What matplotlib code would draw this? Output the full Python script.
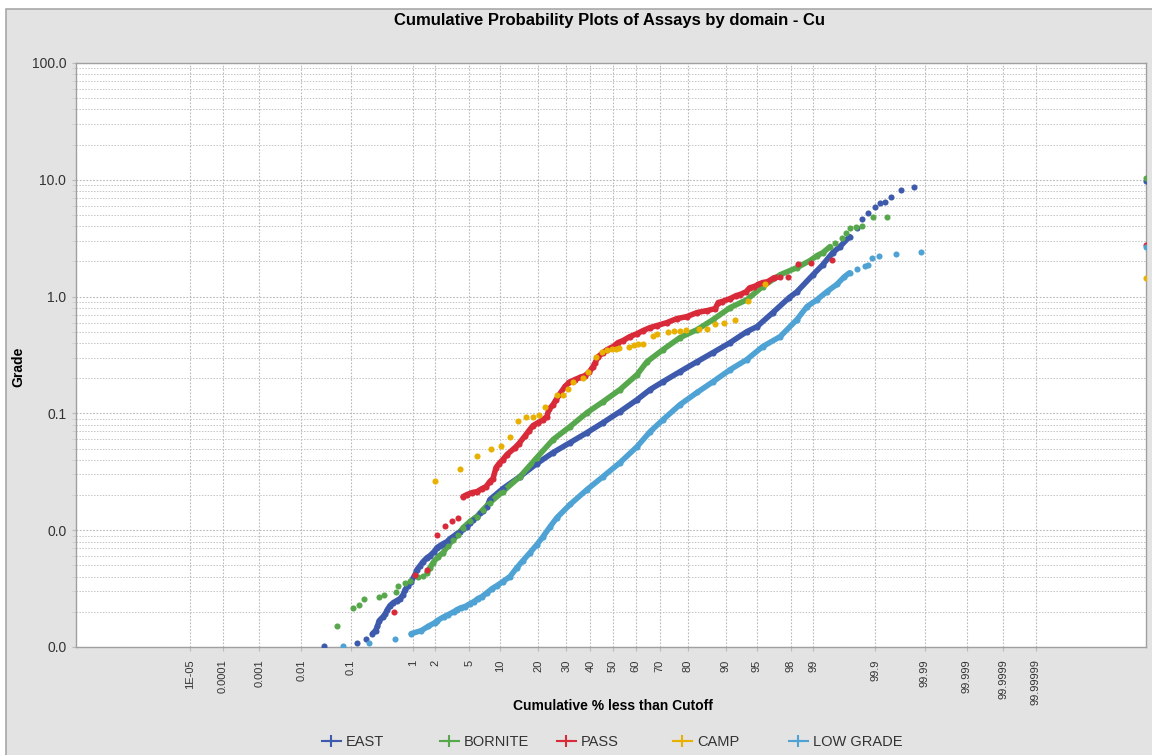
import numpy as np
import matplotlib
matplotlib.use('Agg')
import matplotlib.pyplot as plt
from matplotlib.lines import Line2D
from matplotlib.patches import Rectangle
from matplotlib.ticker import FuncFormatter, LogLocator, NullFormatter, NullLocator
from statistics import NormalDist

plt.rcParams['font.family'] = ['Liberation Sans', 'DejaVu Sans']

# cumulative % less than cutoff / grade (Cu %) for each domain
east_pct = [0.031, 0.13, 0.19, 0.24, 0.27, 0.29, 0.31, 0.36, 0.39, 0.42, 0.46, 0.52, 0.59,
            0.66, 0.73, 0.78, 0.86, 0.95, 1.08, 1.15, 1.27, 1.39, 1.57, 1.72, 1.94, 2.11,
            2.3, 2.51, 2.79, 3.03, 3.29, 3.65, 3.95, 4.26, 4.71, 5.07, 5.45, 5.99, 6.4,
            6.87, 7.52, 8.0, 10.5, 14.6, 19.5, 25.0, 31.5, 38.6, 45.6, 53.1, 60.6, 66.1,
            71.3, 77.5, 82.9, 87.2, 90.9, 93.7, 95.05, 96.7, 97.9, 98.33, 98.99, 99.27,
            99.48, 99.60, 99.72, 99.79, 99.83, 99.864, 99.90, 99.918, 99.934, 99.949,
            99.968, 99.983, 100.0]
east_grade = [0.00101, 0.00109, 0.00118, 0.0013, 0.00138, 0.0015, 0.00168, 0.00182, 0.00193,
              0.00209, 0.00226, 0.0024, 0.0025, 0.0026, 0.00281, 0.0031, 0.00336, 0.00363,
              0.00417, 0.0046, 0.00498, 0.00538, 0.00582, 0.00606, 0.00656, 0.0071, 0.00738,
              0.00767, 0.00798, 0.00847, 0.00881, 0.00935, 0.00973, 0.0103, 0.0107, 0.0116,
              0.0123, 0.0131, 0.0139, 0.0147, 0.0159, 0.0183, 0.0227, 0.0288, 0.0372, 0.0462,
              0.0562, 0.0685, 0.0834, 0.1036, 0.131, 0.16, 0.187, 0.228, 0.277, 0.332, 0.404,
              0.501, 0.553, 0.73, 0.98, 1.10, 1.54, 1.88, 2.38, 2.68, 3.26, 3.9, 4.65, 5.24,
              5.9, 6.38, 6.5, 7.18, 8.24, 8.74, 9.7]

bornite_pct = [0.056, 0.11, 0.14, 0.17, 0.31, 0.37, 0.57, 0.61, 0.78, 0.92, 1.19, 1.39, 1.57,
               1.72, 1.88, 2.17, 2.51, 2.87, 3.29, 3.75, 4.26, 5.07, 5.99, 6.87, 8.0, 10.5,
               14.6, 19.5, 25.0, 31.5, 38.6, 45.6, 53.1, 60.6, 64.8, 71.3, 77.5, 82.9, 87.2,
               90.9, 93.7, 95.7, 97.3, 98.33, 98.88, 99.11, 99.27, 99.43, 99.52, 99.63, 99.68,
               99.72, 99.78, 99.83, 99.89, 99.94, 100.0]
bornite_grade = [0.0015, 0.00217, 0.00231, 0.0026, 0.0027, 0.00281, 0.00298, 0.00336, 0.00356,
                 0.0037, 0.00401, 0.00408, 0.00434, 0.00479, 0.00528, 0.00594, 0.00643, 0.00738,
                 0.0083, 0.00917, 0.0105, 0.0119, 0.0131, 0.015, 0.0172, 0.0214, 0.0288, 0.0419,
                 0.0597, 0.0771, 0.1016, 0.126, 0.16, 0.215, 0.277, 0.352, 0.446, 0.521, 0.636,
                 0.805, 0.94, 1.22, 1.54, 1.77, 2.03, 2.24, 2.38, 2.68, 2.9, 3.2, 3.53, 3.9, 3.97,
                 4.05, 4.84, 4.84, 10.4]

pass_pct = [0.53, 1.08, 1.57, 2.11, 2.65, 3.2, 3.75, 4.26, 4.71, 5.32, 5.99, 6.72, 7.35, 8.0,
            8.57, 9.13, 9.72, 10.5, 11.4, 13.3, 14.3, 16.0, 17.1, 18.3, 19.9, 21.5, 22.8, 23.5,
            25.0, 26.1, 27.6, 29.5, 31.1, 33.5, 35.6, 37.7, 39.4, 41.2, 42.1, 43.4, 45.6, 47.4,
            50.0, 52.2, 54.4, 57.5, 60.6, 63.2, 66.1, 68.9, 72.8, 76.4, 79.8, 82.9, 85.7, 87.7,
            88.4, 89.2, 90.9, 92.0, 92.6, 93.6, 94.1, 94.7, 95.2, 95.7, 96.2, 96.8, 97.3, 97.8,
            98.4, 98.92, 99.47, 100.0]
pass_grade = [0.00201, 0.00417, 0.0046, 0.00917, 0.0109, 0.0121, 0.0126, 0.0194, 0.0202, 0.021,
              0.0214, 0.0227, 0.0236, 0.0261, 0.0277, 0.0344, 0.0372, 0.0402, 0.0444, 0.0509,
              0.0551, 0.0645, 0.0713, 0.0787, 0.0834, 0.0885, 0.0939, 0.108, 0.119, 0.131, 0.148,
              0.17, 0.184, 0.195, 0.203, 0.211, 0.224, 0.252, 0.272, 0.306, 0.332, 0.352, 0.373,
              0.404, 0.42, 0.455, 0.482, 0.512, 0.543, 0.565, 0.599, 0.648, 0.674, 0.73, 0.759,
              0.789, 0.889, 0.906, 0.962, 1.02, 1.04, 1.10, 1.19, 1.22, 1.27, 1.32, 1.34, 1.45,
              1.48, 1.48, 1.92, 1.95, 2.07, 2.78]

camp_pct = [1.99, 3.95, 5.99, 8.2, 10.1, 12.1, 14.1, 16.3, 18.3, 20.2, 22.2, 26.4, 28.7, 30.7,
            32.7, 36.9, 39.0, 42.5, 45.1, 47.4, 49.6, 51.3, 52.7, 57.1, 59.2, 61.0, 63.2, 67.3,
            68.9, 73.2, 75.4, 77.5, 79.5, 83.5, 85.7, 87.7, 89.7, 91.8, 93.9, 96.0, 100.0]
camp_grade = [0.0266, 0.0337, 0.0435, 0.05, 0.053, 0.0633, 0.0867, 0.0939, 0.094, 0.0977, 0.114,
              0.145, 0.145, 0.163, 0.184, 0.199, 0.224, 0.306, 0.338, 0.352, 0.359, 0.359, 0.366,
              0.373, 0.388, 0.396, 0.396, 0.464, 0.482, 0.501, 0.512, 0.512, 0.522, 0.532, 0.532,
              0.587, 0.599, 0.636, 0.924, 1.29, 1.45]

low_pct = [0.072, 0.21, 0.55, 0.95, 1.31, 1.62, 1.99, 2.11, 2.58, 2.87, 3.38, 3.65, 4.05, 4.48,
           5.07, 5.58, 6.12, 6.72, 7.52, 8.38, 9.33, 10.5, 12.1, 13.8, 15.4, 17.4, 19.5, 21.5,
           23.9, 26.4, 31.5, 38.6, 45.6, 53.1, 60.6, 66.1, 71.3, 77.5, 82.9, 87.2, 90.9, 93.7,
           95.7, 97.3, 98.33, 98.77, 99.11, 99.36, 99.55, 99.66, 99.72, 99.79, 99.85, 99.864,
           99.885, 99.914, 99.96, 99.988, 100.0]
low_grade = [0.00101, 0.00109, 0.00118, 0.0013, 0.00138, 0.0015, 0.00162, 0.00168, 0.00182,
             0.00189, 0.00201, 0.00209, 0.00217, 0.00222, 0.00235, 0.00245, 0.0026, 0.0027,
             0.00292, 0.00316, 0.00336, 0.00363, 0.00401, 0.00479, 0.0055, 0.00643, 0.00753,
             0.00881, 0.0107, 0.0128, 0.0166, 0.0223, 0.0288, 0.0379, 0.052, 0.0698, 0.0885,
             0.119, 0.151, 0.187, 0.237, 0.289, 0.373, 0.455, 0.636, 0.82, 0.94, 1.10, 1.27,
             1.48, 1.60, 1.74, 1.84, 1.88, 2.12, 2.24, 2.33, 2.43, 2.68]

domains = ['EAST', 'BORNITE', 'PASS', 'CAMP', 'LOW GRADE']
colors = ['#3d5aad', '#57a84c', '#d92a3a', '#e8b000', '#4fa3d4']
# the continuous stretch of each curve where the samples run together
bands = [(0.2, 99.75), (1.5, 99.5), (4.2, 97.5), None, (0.9, 99.75)]

x_ticks = [1e-5, 1e-4, 1e-3, 0.01, 0.1, 1, 2, 5, 10, 20, 30, 40, 50, 60, 70, 80, 90, 95, 98, 99,
           99.9, 99.99, 99.999, 99.9999, 99.99999]
x_tick_labels = ['1E-05', '0.0001', '0.001', '0.01', '0.1', '1', '2', '5', '10', '20', '30', '40',
                 '50', '60', '70', '80', '90', '95', '98', '99', '99.9', '99.99', '99.999',
                 '99.9999', '99.99999']

# probability axis: normal quantile, slightly compressed in the tails
ND = NormalDist()
A = 0.0185
G_LO, G_HI = -5.967, 5.922


def _g_to_pct(g):
    g = float(np.clip(g, -13.0, 13.0))
    z = np.sign(g) * (1 - np.sqrt(1 - 4 * A * abs(g))) / (2 * A)
    return 100.0 * ND.cdf(z)


P_LO, P_HI = _g_to_pct(G_LO), _g_to_pct(G_HI)


def _pct_to_g(p):
    p = min(max(float(p), P_LO), P_HI)
    if p > 50:
        z = -ND.inv_cdf((100.0 - p) / 100.0)
    else:
        z = ND.inv_cdf(p / 100.0)
    return z * (1 - A * abs(z))


forward = np.vectorize(_pct_to_g, otypes=[float])
inverse = np.vectorize(_g_to_pct, otypes=[float])

fig = plt.figure(figsize=(11.52, 7.55), dpi=100)
fig.patch.set_facecolor('white')
fig.add_artist(Rectangle((6 / 1152, -0.01), 1.0, (755 - 9) / 755 + 0.01,
                         transform=fig.transFigure, facecolor='#e3e3e3',
                         edgecolor='#a8a8a8', lw=1.2, zorder=-5))

ax = fig.add_axes([76 / 1152, 108 / 755, 1070 / 1152, 584 / 755])
ax.set_facecolor('white')
ax.set_xscale('function', functions=(forward, inverse))
ax.set_yscale('log')

data = [(east_pct, east_grade), (bornite_pct, bornite_grade), (pass_pct, pass_grade),
        (camp_pct, camp_grade), (low_pct, low_grade)]

for (pct, grade), col, band in zip(data, colors, bands):
    pct = np.array(pct)
    grade = np.array(grade)
    if band is not None:
        m = (pct >= band[0]) & (pct <= band[1])
        ax.plot(pct[m], grade[m], color=col, lw=4.0, solid_capstyle='round',
                solid_joinstyle='round', zorder=3)
    ax.plot(pct, grade, 'o', color=col, ms=4.4, mew=0, zorder=4)

ax.set_xlim(P_LO, P_HI)
ax.set_ylim(0.001, 100)

ax.set_xticks(x_ticks)
ax.set_xticklabels(x_tick_labels, rotation=90, va='top', fontsize=8, color='#333333')
ax.xaxis.set_minor_locator(NullLocator())
ax.yaxis.set_major_formatter(FuncFormatter(lambda v, _: f'{v:.1f}'))
ax.yaxis.set_minor_locator(LogLocator(base=10, subs=range(2, 10)))
ax.yaxis.set_minor_formatter(NullFormatter())
ax.tick_params(axis='y', which='major', labelsize=10, labelcolor='#333333', length=3,
               color='#bbbbbb', pad=4)
ax.tick_params(axis='y', which='minor', length=3, color='#cccccc')
ax.tick_params(axis='x', length=3, color='#bbbbbb', pad=6)

ax.grid(True, which='major', axis='both', ls=(0, (1.5, 1.5)), color='#b8b8b8', lw=0.8)
ax.grid(True, which='minor', axis='y', ls=(0, (1.5, 1.5)), color='#c4c4c4', lw=0.7)
ax.set_axisbelow(True)
for s in ax.spines.values():
    s.set_color('#a0a0a0')
    s.set_linewidth(1.0)

fig.text(610 / 1152, 1 - 20 / 755, 'Cumulative Probability Plots of Assays by domain - Cu',
         ha='center', va='center', fontsize=12, fontweight='bold')
fig.text(18 / 1152, 1 - 367 / 755, 'Grade', rotation=90, ha='center', va='center',
         fontsize=10, fontweight='bold')
fig.text(613 / 1152, 1 - 706 / 755, 'Cumulative % less than Cutoff', ha='center',
         va='center', fontsize=10, fontweight='bold')

# legend entries sit at the spacing the chart panel gives them
legend_x = [322, 440, 557, 673, 789]
for name, col, lx in zip(domains, colors, legend_x):
    h = Line2D([], [], color=col, marker='+', ms=9, mew=1.5, lw=1.5)
    fig.legend([h], [name], loc='center left', bbox_to_anchor=(lx / 1152, 1 - 742 / 755),
               frameon=False, fontsize=10.5, handlelength=1.3, handletextpad=0.35,
               borderpad=0, borderaxespad=0, labelcolor='#333333')

fig.savefig('out.png', dpi=100, facecolor=fig.get_facecolor())
